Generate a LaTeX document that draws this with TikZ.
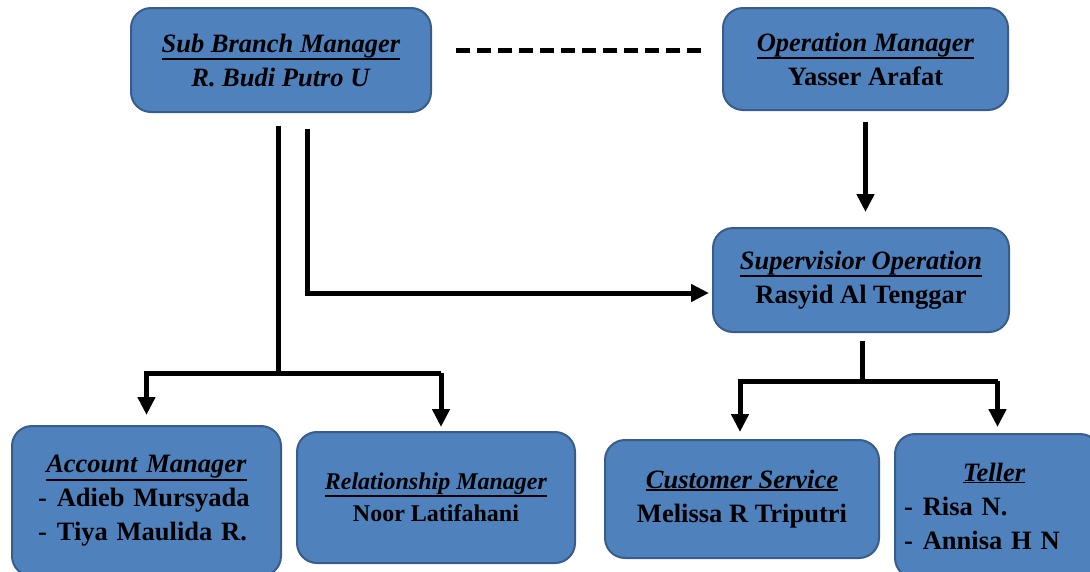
\documentclass[tikz,border=0pt]{standalone}
\usepackage{fontspec}
\setmainfont{Liberation Serif}
\usetikzlibrary{arrows.meta}
\definecolor{boxfill}{RGB}{79,129,189}
\definecolor{boxline}{RGB}{56,93,138}
\newcommand{\jobtitle}[1]{\setbox0\hbox{\textit{#1}}\rlap{\rule[\dimexpr-\dp0-2pt\relax]{\wd0}{1.8pt}}\box0}

\begin{document}
\begin{tikzpicture}[x=1pt,y=-1pt,
        unit/.style={draw=boxline,fill=boxfill,line width=2pt,rounded corners=20pt,
            font=\fontsize{26.5}{34}\selectfont\bfseries,align=center,inner sep=0pt},
        link/.style={line width=5pt},
        arrow/.style={line width=5pt,-{Triangle[width=17pt,length=18pt]}}
    ]
    \useasboundingbox (0,0) rectangle (1090,571);
    \node[unit,minimum width=300pt,minimum height=104pt] (sbm) at (281,60)
    {\jobtitle{Sub Branch Manager}\\\textit{R. Budi Putro U}};
    \node[unit,minimum width=285pt,minimum height=102pt] (om) at (865.5,59)
    {\jobtitle{Operation Manager}\\Yasser Arafat};
    \node[unit,minimum width=296pt,minimum height=104pt] (so) at (861,280)
    {\jobtitle{Supervisior Operation}\\Rasyid Al Tenggar};
    \node[unit,minimum width=269pt,minimum height=150pt,text width=217pt,align=left] (am) at (146.5,501)
    {\makebox[217pt]{\jobtitle{Account Manager}}\\-\hspace{10pt}Adieb Mursyada\\-\hspace{10pt}Tiya Maulida R.};
    \node[unit,minimum width=278pt,minimum height=131pt,font=\fontsize{24}{32}\selectfont\bfseries] (rm) at (436,497.5)
    {\jobtitle{Relationship Manager}\\Noor Latifahani};
    \node[unit,minimum width=274pt,minimum height=118pt] (cs) at (742,499)
    {\jobtitle{Customer Service}\\Melissa R Triputri};
    \node[unit,minimum width=205pt,minimum height=144pt,text width=187pt,align=left] (tel) at (997.5,506)
    {\makebox[180pt]{\jobtitle{Teller}}\\-\hspace{10pt}Risa N.\\-\hspace{10pt}Annisa H N};

    \draw[link,dash pattern=on 14pt off 7pt] ([xshift=24pt,yshift=10pt]sbm.east) -- ([xshift=-18pt,yshift=9pt]om.west);

    \coordinate (sbmj) at (278,373);
    \draw[link,shorten <=13pt] ([xshift=-3pt]sbm.south) -- (sbmj);
    \draw[arrow,shorten >=10pt] ([xshift=5pt]rm.north |- sbmj) -- (am.north |- sbmj) -- (am.north);
    \draw[arrow,shorten >=4pt] ([xshift=5pt]rm.north |- sbmj) -- ([xshift=5pt]rm.north);

    \coordinate (bend) at (307,293);
    \draw[arrow,shorten <=16pt,shorten >=3pt] ([xshift=26pt]sbm.south) -- (bend) -- ([yshift=-13pt]so.west);
    \draw[arrow,shorten <=11pt,shorten >=15pt] (om.south) -- (om.south |- so.north);

    \coordinate (soj) at (862,381);
    \draw[link,shorten <=8pt] ([xshift=1pt]so.south) -- (soj);
    \draw[arrow,shorten >=7pt] (tel.north |- soj) -- ([xshift=-2pt]cs.north |- soj) -- ([xshift=-2pt]cs.north);
    \draw[arrow,shorten >=6pt] (tel.north |- soj) -- (tel.north);
\end{tikzpicture}
\end{document}
